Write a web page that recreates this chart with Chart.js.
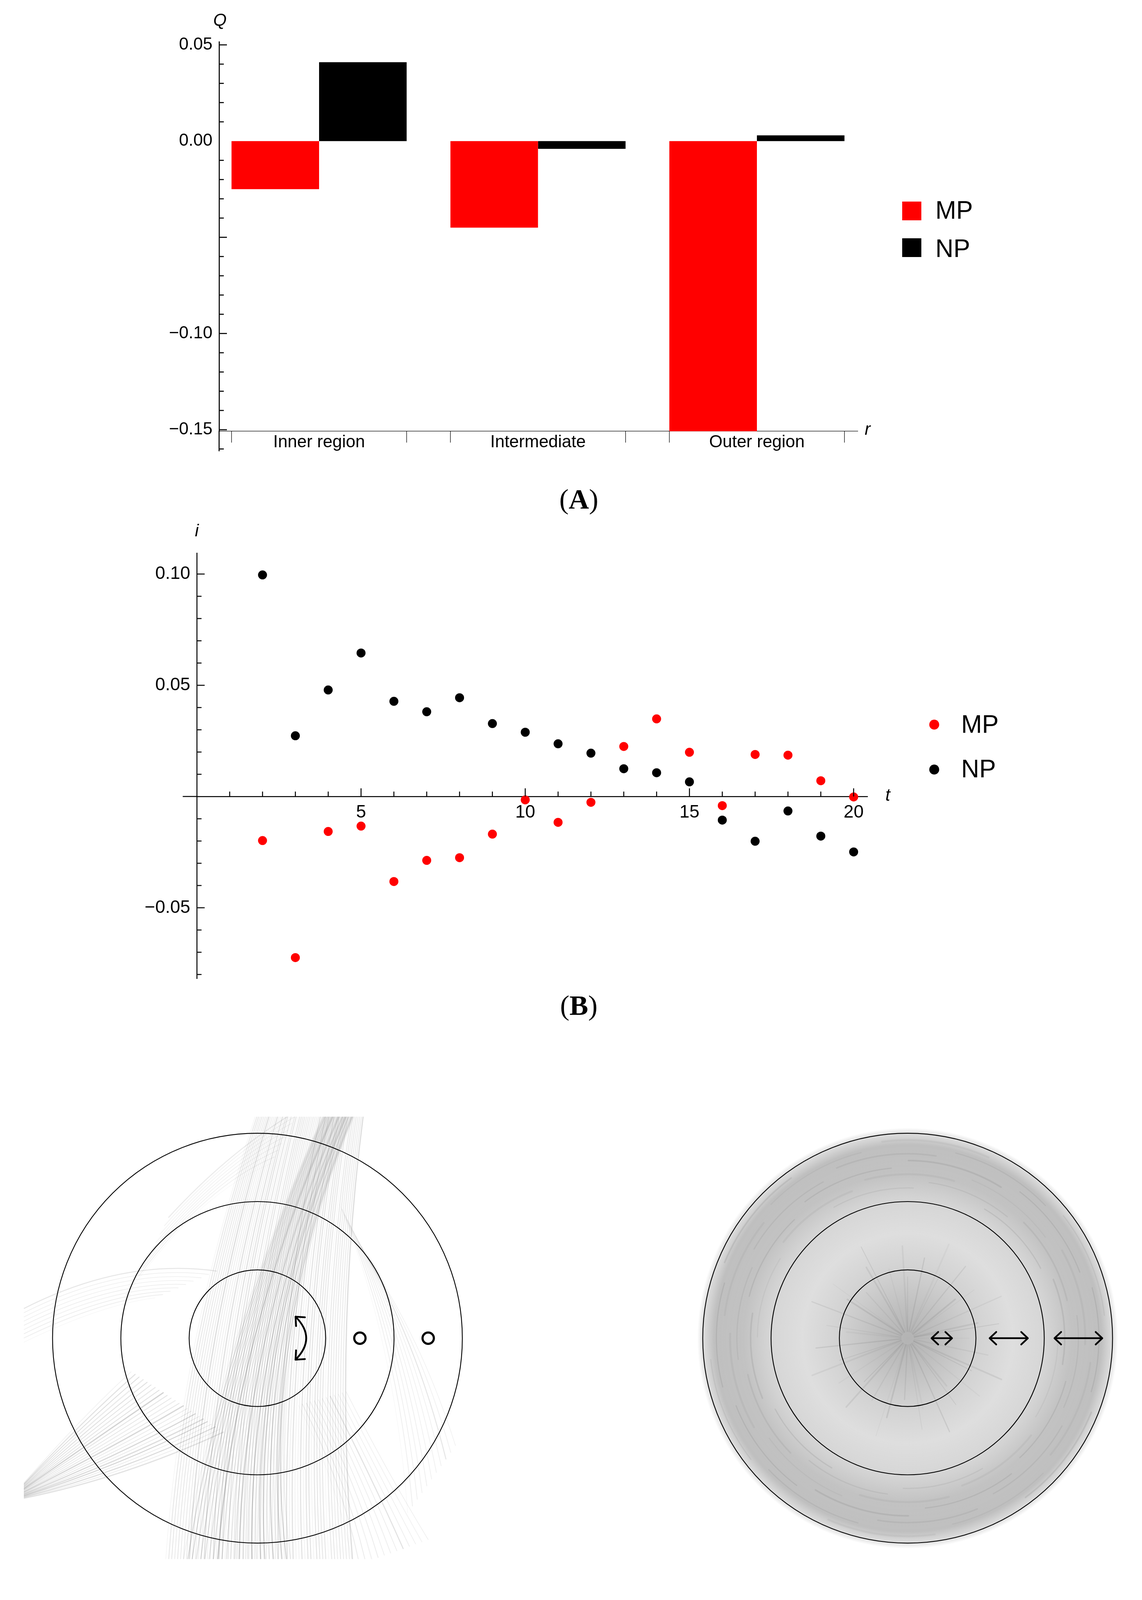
<!DOCTYPE html>
<html>
<head>
<meta charset="utf-8">
<title>Q by region, i over t, cell regions</title>
<script src="https://cdn.jsdelivr.net/npm/chart.js@4.4.1/dist/chart.umd.min.js"></script>
<style>
	html, body { margin: 0; padding: 0; background: #fff; }
	#page { position: relative; width: 2924px; height: 4255px; overflow: hidden; background: #fff; }
	#page canvas { position: absolute; left: 0; }
	.caption {
		position: absolute; left: 1282px; width: 400px; text-align: center;
		font-family: "Liberation Serif", "DejaVu Serif", serif;
		font-size: 72px; line-height: 72px; color: #000;
	}
</style>
</head>
<body>
<div id="page">
	<canvas id="chartA" width="2924" height="1250" style="top:0;width:2924px;height:1250px"></canvas>
	<div class="caption" style="top:1242px">(<b>A</b>)</div>
	<canvas id="chartB" width="2924" height="1320" style="top:1300px;width:2924px;height:1320px"></canvas>
	<div class="caption" style="top:2538px">(<b>B</b>)</div>
	<canvas id="chartC" width="2924" height="1300" style="top:2800px;width:2924px;height:1300px"></canvas>
	<div class="caption" style="top:4160px">(<b>C</b>)</div>
</div>
<script>
// panel A: Q per region
var regions = ["Inner region", "Intermediate", "Outer region"];
var regionSlots = [0, 1, 2];
var qMP = [-0.025, -0.045, -0.151];
var qNP = [0.041, -0.004, 0.003];
var qTickLabels = [0.05, 0.00, -0.10, -0.15];

// panel B: i over t
var steps = [2, 3, 4, 5, 6, 7, 8, 9, 10, 11, 12, 13, 14, 15, 16, 17, 18, 19, 20];
var iMP = [-0.0198, -0.0724, -0.0157, -0.0133, -0.0382, -0.0287, -0.0275, -0.0169, -0.0015,
	-0.0116, -0.0026, 0.0225, 0.0349, 0.0199, -0.0041, 0.0189, 0.0186, 0.0071, -0.0002];
var iNP = [0.0996, 0.0273, 0.0479, 0.0645, 0.0428, 0.0381, 0.0444, 0.0328, 0.0289,
	0.0237, 0.0195, 0.0125, 0.0107, 0.0066, -0.0106, -0.0201, -0.0065, -0.0178, -0.0249];
var tTickLabels = [5, 10, 15, 20];
var iTickLabels = [0.10, 0.05, -0.05];

// panel C: the two cells, in units of one ring width
var ringRadii = [1, 2, 3];
var cellCentres = [0, 9.52];
var markerRadii = [1.5, 2.5];
var arrowRadii = [0.5, 1.48, 2.5];
var arrowHalfLengths = [0.15, 0.28, 0.35];

Chart.defaults.font.family = '"Liberation Sans", Arial, sans-serif';
Chart.defaults.color = "#000";
Chart.defaults.animation = false;
Chart.defaults.events = [];
Chart.defaults.plugins.legend.display = false;
Chart.defaults.plugins.tooltip.enabled = false;

function fmt(v) {
	return (v < -1e-9 ? "\u2212" : "") + Math.abs(v).toFixed(2);
}
function near(list, v) {
	return list.some(function (a) { return Math.abs(a - v) < 1e-6; });
}
function line(ctx, x1, y1, x2, y2) {
	ctx.beginPath();
	ctx.moveTo(x1, y1);
	ctx.lineTo(x2, y2);
	ctx.stroke();
}
// mathematica style ticks, pointing into the plot
function inwardTicks(ctx, scale, axisPx, majorStep, majorLen, minorLen) {
	scale.ticks.forEach(function (t) {
		if (Math.abs(t.value) < 1e-9) return;
		var q = t.value / majorStep;
		var len = Math.abs(q - Math.round(q)) < 1e-6 ? majorLen : minorLen;
		var p = scale.getPixelForValue(t.value);
		if (scale.isHorizontal()) line(ctx, p, axisPx, p, axisPx - len);
		else line(ctx, axisPx, p, axisPx + len, p);
	});
}

// ---------- (A) ----------
var axisA = {
	id: "axisA",
	afterDraw: function (chart) {
		var ctx = chart.ctx, a = chart.chartArea, x = chart.scales.x, y = chart.scales.y;
		ctx.save();
		ctx.strokeStyle = "#000";
		ctx.lineCap = "butt";
		// the Q axis goes on a little below the r axis
		ctx.lineWidth = 2.7;
		line(ctx, a.left, a.bottom - 1, a.left, y.getPixelForValue(-0.1612));
		inwardTicks(ctx, y, a.left, 0.05, 20, 12);
		var p16 = y.getPixelForValue(-0.16);
		line(ctx, a.left, p16, a.left + 12, p16);
		// region boundaries
		ctx.lineWidth = 1.3;
		var half = chart.data.datasets[0].categoryPercentage / 2;
		regionSlots.forEach(function (s) {
			[s - half, s + half].forEach(function (e) {
				var px = x.getPixelForValue(e);
				line(ctx, px, a.bottom, px, a.bottom + 29);
			});
		});
		// axis names
		ctx.fillStyle = "#000";
		ctx.font = 'italic 44px "Liberation Sans"';
		ctx.textBaseline = "alphabetic";
		ctx.textAlign = "center";
		ctx.fillText("Q", a.left + 2, 66);
		ctx.textAlign = "left";
		ctx.fillText("r", a.right + 18, a.bottom + 9);
		// legend
		ctx.font = '64px "Liberation Sans"';
		chart.data.datasets.forEach(function (ds, k) {
			ctx.fillStyle = ds.backgroundColor;
			ctx.fillRect(a.right + 114, 516 + k * 94, 49, 48);
			ctx.fillStyle = "#000";
			ctx.fillText(ds.label, a.right + 199, 560 + k * 98);
		});
		ctx.restore();
	}
};

new Chart(document.getElementById("chartA"), {
	type: "bar",
	data: {
		datasets: [
			{
				label: "MP",
				data: regionSlots.map(function (s, k) { return { x: s, y: qMP[k] }; }),
				backgroundColor: "#ff0000",
				borderWidth: 0,
				categoryPercentage: 0.8,
				barPercentage: 1.0,
			},
			{
				label: "NP",
				data: regionSlots.map(function (s, k) { return { x: s, y: qNP[k] }; }),
				backgroundColor: "#000000",
				borderWidth: 0,
				categoryPercentage: 0.8,
				barPercentage: 1.0,
			},
		],
	},
	options: {
		responsive: false,
		devicePixelRatio: 1,
		layout: { padding: { left: 0, top: 107, right: 728, bottom: 0 } },
		scales: {
			x: {
				type: "linear",
				position: "bottom",
				offset: false,
				min: -0.4567,
				max: 2.4603,
				grid: { display: false, drawTicks: false },
				border: { color: "#000", width: 1.3 },
				ticks: {
					autoSkip: false,
					maxRotation: 0,
					padding: 2,
					font: { size: 44 },
					callback: function (v) { return regions[v] !== undefined ? regions[v] : ""; },
				},
				afterBuildTicks: function (s) {
					s.ticks = regionSlots.map(function (v) { return { value: v }; });
				},
				afterFit: function (s) { s.height = 146; },
			},
			y: {
				type: "linear",
				min: -0.1508,
				max: 0.0516,
				grid: { display: false, drawTicks: false },
				border: { color: "#000", width: 2.7 },
				ticks: {
					stepSize: 0.01,
					includeBounds: false,
					autoSkip: false,
					padding: 17,
					font: { size: 44 },
					callback: function (v) { return near(qTickLabels, v) ? fmt(v) : ""; },
				},
				afterFit: function (s) { s.width = 561; },
			},
		},
	},
	plugins: [axisA],
});

// ---------- (B) ----------
var axisB = {
	id: "axisB",
	afterDraw: function (chart) {
		var ctx = chart.ctx, a = chart.chartArea, x = chart.scales.x, y = chart.scales.y;
		var y0 = y.getPixelForValue(0);
		ctx.save();
		ctx.strokeStyle = "#000";
		ctx.lineWidth = 2.5;
		// t axis starts a bit left of the i axis
		line(ctx, x.getPixelForValue(-0.43), y0, a.left, y0);
		inwardTicks(ctx, x, y0, 5, 21, 12.7);
		inwardTicks(ctx, y, a.left, 0.05, 20, 12);
		ctx.fillStyle = "#000";
		ctx.font = 'italic 44px "Liberation Sans"';
		ctx.textAlign = "center";
		ctx.fillText("i", a.left, 73);
		ctx.textAlign = "left";
		ctx.fillText("t", a.right + 46, y0 + 11);
		// legend
		ctx.font = '64px "Liberation Sans"';
		chart.data.datasets.forEach(function (ds, k) {
			ctx.fillStyle = ds.backgroundColor;
			ctx.beginPath();
			ctx.arc(a.right + 171, 555 + k * 115, 12.7, 0, Math.PI * 2);
			ctx.fill();
			ctx.fillStyle = "#000";
			ctx.fillText(ds.label, a.right + 240, 576 + k * 114);
		});
		ctx.restore();
	}
};

new Chart(document.getElementById("chartB"), {
	type: "scatter",
	data: {
		datasets: [
			{
				label: "MP",
				data: steps.map(function (t, k) { return { x: t, y: iMP[k] }; }),
				backgroundColor: "#ff0000",
				pointRadius: 11.5,
				pointBorderWidth: 0,
			},
			{
				label: "NP",
				data: steps.map(function (t, k) { return { x: t, y: iNP[k] }; }),
				backgroundColor: "#000000",
				pointRadius: 11.5,
				pointBorderWidth: 0,
			},
		],
	},
	options: {
		responsive: false,
		devicePixelRatio: 1,
		layout: { padding: { left: 0, top: 116, right: 703, bottom: 115 } },
		scales: {
			x: {
				type: "linear",
				position: { y: 0 },
				min: 0,
				max: 20.42,
				grid: { display: false, drawTicks: false },
				border: { color: "#000", width: 2.5 },
				ticks: {
					stepSize: 1,
					includeBounds: false,
					autoSkip: false,
					maxRotation: 0,
					padding: 14,
					font: { size: 46 },
					callback: function (v) { return tTickLabels.indexOf(v) >= 0 ? String(v) : ""; },
				},
			},
			y: {
				type: "linear",
				position: "left",
				min: -0.0818,
				max: 0.1094,
				grid: { display: false, drawTicks: false },
				border: { color: "#000", width: 2.5 },
				ticks: {
					stepSize: 0.01,
					includeBounds: false,
					autoSkip: false,
					padding: 17,
					font: { size: 46 },
					callback: function (v) { return near(iTickLabels, v) ? fmt(v) : ""; },
				},
				afterFit: function (s) { s.width = 504; },
			},
		},
	},
	plugins: [axisB],
});

// ---------- (C) ----------
// gray filament texture, then the region rings and the movement arrows
function bundle(ctx, P, s0, s1, c0, c1, e0, e1, n, alpha, width) {
	for (var k = 0; k < n; k++) {
		var f = n > 1 ? k / (n - 1) : 0.5;
		var mix = function (p, q) { return [p[0] + (q[0] - p[0]) * f, p[1] + (q[1] - p[1]) * f]; };
		var s = P(mix(s0, s1)), c = P(mix(c0, c1)), e = P(mix(e0, e1));
		// uneven strands so the bundle does not look combed
		var shade = 0.4 + 0.6 * ((k * 37) % 11) / 10;
		ctx.strokeStyle = "rgba(115,115,115," + (alpha * shade).toFixed(3) + ")";
		ctx.lineWidth = width * (0.6 + 0.2 * ((k * 13) % 5));
		ctx.beginPath();
		ctx.moveTo(s[0], s[1]);
		ctx.quadraticCurveTo(c[0], c[1], e[0], e[1]);
		ctx.stroke();
	}
}
function arrowHead(ctx, tip, dir, len, half) {
	var n = Math.hypot(dir[0], dir[1]);
	var ux = dir[0] / n, uy = dir[1] / n;
	ctx.beginPath();
	ctx.moveTo(tip[0] - ux * len - uy * half, tip[1] - uy * len + ux * half);
	ctx.lineTo(tip[0], tip[1]);
	ctx.lineTo(tip[0] - ux * len + uy * half, tip[1] - uy * len - ux * half);
	ctx.stroke();
}

var cellsPlugin = {
	id: "cells",
	beforeDatasetsDraw: function (chart) {
		var ctx = chart.ctx, x = chart.scales.x, y = chart.scales.y;
		var unit = x.getPixelForValue(1) - x.getPixelForValue(0);
		ctx.save();
		// left cell: streaming filaments, cut to the photo frame
		var cl = cellCentres[0];
		var P = function (p) { return [x.getPixelForValue(cl + p[0]), y.getPixelForValue(p[1])]; };
		var tl = P([-3.42, 3.30]), br = P([3.0, -3.29]);
		ctx.beginPath();
		ctx.rect(tl[0], tl[1], br[0] - tl[0], br[1] - tl[1]);
		ctx.clip();
		ctx.lineCap = "round";
		bundle(ctx, P, [0.0, 3.4], [1.56, 3.4], [-1.125, 0], [1.12, 0], [-1.35, -3.4], [1.4, -3.4], 64, 0.24, 2.2);
		bundle(ctx, P, [1.0, 3.4], [1.45, 3.4], [-0.55, 0], [0.03, 0], [-1.1, -3.4], [0.5, -3.4], 26, 0.36, 2.6);
		bundle(ctx, P, [-1.85, -0.5], [-0.5, -1.4], [-2.6, -1.2], [-2.0, -2.1], [-3.5, -2.25], [-3.5, -2.4], 24, 0.32, 2.2);
		bundle(ctx, P, [-1.5, 0.6], [-0.6, 1.0], [-2.3, 0.5], [-2.0, 1.2], [-3.5, -0.1], [-3.5, 0.4], 9, 0.18, 1.8);
		bundle(ctx, P, [1.2, 2.0], [1.6, 1.2], [2.0, 0.0], [2.4, 0.0], [2.2, -2.6], [2.9, -1.6], 11, 0.18, 1.8);
		bundle(ctx, P, [0.6, -1.0], [1.3, -0.8], [1.2, -2.2], [1.9, -2.0], [1.4, -3.4], [2.5, -3.0], 13, 0.2, 2.0);
		bundle(ctx, P, [0.2, 2.6], [0.6, 3.4], [-0.8, 2.2], [-0.4, 2.8], [-1.8, 0.8], [-1.3, 1.8], 9, 0.15, 1.8);
		ctx.restore();

		// right cell: dense network filling the disc
		ctx.save();
		var cx = x.getPixelForValue(cellCentres[1]), cy = y.getPixelForValue(0);
		var R = 3.08 * unit;
		var g = ctx.createRadialGradient(cx, cy, 0, cx, cy, R);
		g.addColorStop(0.00, "rgba(128,128,128,0.60)");
		g.addColorStop(0.15, "rgba(128,128,128,0.50)");
		g.addColorStop(0.32, "rgba(128,128,128,0.36)");
		g.addColorStop(0.50, "rgba(128,128,128,0.26)");
		g.addColorStop(0.65, "rgba(128,128,128,0.32)");
		g.addColorStop(0.78, "rgba(128,128,128,0.48)");
		g.addColorStop(0.92, "rgba(128,128,128,0.50)");
		g.addColorStop(0.97, "rgba(128,128,128,0.28)");
		g.addColorStop(1.00, "rgba(128,128,128,0.0)");
		ctx.fillStyle = g;
		ctx.beginPath();
		ctx.arc(cx, cy, R, 0, Math.PI * 2);
		ctx.fill();
		ctx.lineCap = "round";
		// radial fibres around the centre
		for (var k = 0; k < 40; k++) {
			var ang = k * Math.PI / 20 + 0.05 * (k % 3);
			var reach = 0.9 + 0.15 * ((k * 7) % 5);
			ctx.strokeStyle = "rgba(100,100,100," + (0.06 + 0.03 * ((k * 5) % 4)).toFixed(3) + ")";
			ctx.lineWidth = 2 + (k % 3);
			line(ctx, cx + Math.cos(ang) * 0.1 * unit, cy + Math.sin(ang) * 0.1 * unit,
				cx + Math.cos(ang) * reach * unit, cy + Math.sin(ang) * reach * unit);
		}
		// broken arcs in the cortex ring
		for (var j = 0; j < 8; j++) {
			var rr = (2.2 + j * 0.1) * unit;
			for (var m = 0; m < 6; m++) {
				var a0 = j * 1.7 + m * 1.05;
				ctx.strokeStyle = "rgba(100,100,100," + (0.08 + 0.03 * ((j + m) % 3)).toFixed(3) + ")";
				ctx.lineWidth = 3 + ((j * m) % 3);
				ctx.beginPath();
				ctx.arc(cx, cy, rr, a0, a0 + 0.55);
				ctx.stroke();
			}
		}
		ctx.restore();
	},
	afterDatasetsDraw: function (chart) {
		var ctx = chart.ctx, x = chart.scales.x, y = chart.scales.y;
		var unit = x.getPixelForValue(1) - x.getPixelForValue(0);
		var cy = y.getPixelForValue(0);
		ctx.save();
		ctx.strokeStyle = "#000";
		ctx.lineWidth = 2.2;
		cellCentres.forEach(function (c) {
			var cx = x.getPixelForValue(c);
			ringRadii.forEach(function (r) {
				ctx.beginPath();
				ctx.arc(cx, cy, r * unit, 0, Math.PI * 2);
				ctx.stroke();
			});
		});
		ctx.lineWidth = 4.5;
		ctx.lineCap = "round";
		ctx.lineJoin = "round";
		// left cell: rotation in the inner region
		var L = function (p) { return [x.getPixelForValue(cellCentres[0] + p[0]), y.getPixelForValue(p[1])]; };
		var s = L([0.558, 0.32]), c = L([0.87, 0]), e = L([0.558, -0.32]);
		ctx.beginPath();
		ctx.moveTo(s[0], s[1]);
		ctx.quadraticCurveTo(c[0], c[1], e[0], e[1]);
		ctx.stroke();
		arrowHead(ctx, s, [s[0] - c[0], s[1] - c[1]], 18, 16);
		arrowHead(ctx, e, [e[0] - c[0], e[1] - c[1]], 18, 16);
		// right cell: radial back and forth in each region
		arrowRadii.forEach(function (r, k) {
			var x1 = x.getPixelForValue(cellCentres[1] + r - arrowHalfLengths[k]);
			var x2 = x.getPixelForValue(cellCentres[1] + r + arrowHalfLengths[k]);
			line(ctx, x1 + 2, cy, x2 - 2, cy);
			arrowHead(ctx, [x1, cy], [-1, 0], 17, 16);
			arrowHead(ctx, [x2, cy], [1, 0], 17, 16);
		});
		ctx.restore();
	}
};

new Chart(document.getElementById("chartC"), {
	type: "scatter",
	data: {
		datasets: [
			{
				label: "Rotation markers",
				data: markerRadii.map(function (r) { return { x: cellCentres[0] + r, y: 0 }; }),
				pointRadius: 14.5,
				pointBorderWidth: 5.5,
				pointBorderColor: "#000",
				pointBackgroundColor: "rgba(0,0,0,0)",
			},
		],
	},
	options: {
		responsive: false,
		devicePixelRatio: 1,
		layout: { padding: 0 },
		scales: {
			x: { type: "linear", display: false, min: -3.655, max: 12.837 },
			y: { type: "linear", display: false, min: -3.807, max: 3.525 },
		},
	},
	plugins: [cellsPlugin],
});
</script>
</body>
</html>
